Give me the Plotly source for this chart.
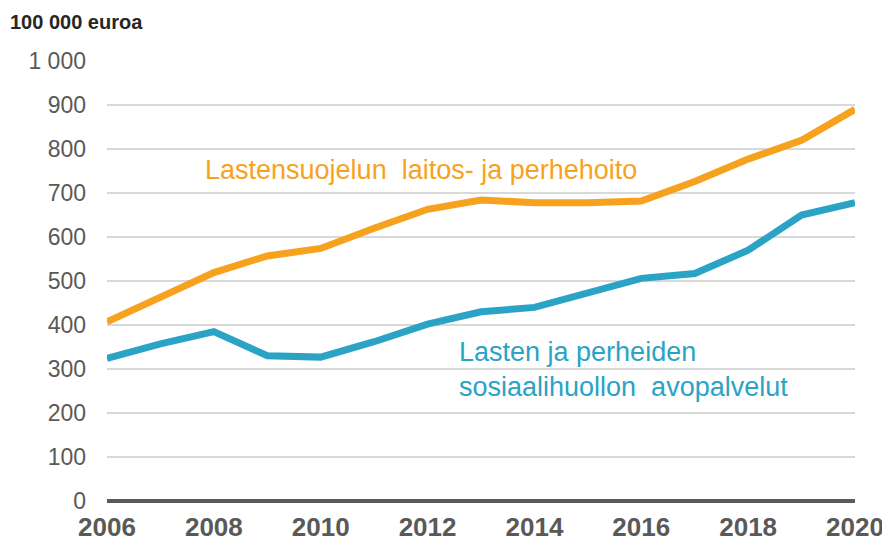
import plotly.graph_objects as go

years = list(range(2006, 2021))
laitos = [407, 461, 519, 557, 574, 620, 663, 684, 678, 678, 682, 726, 777, 820, 890]
avo = [324, 357, 385, 330, 327, 362, 402, 430, 440, 473, 506, 517, 570, 650, 678]
y_ticks = [0, 100, 200, 300, 400, 500, 600, 700, 800, 900, 1000]
x_ticks = [2006, 2008, 2010, 2012, 2014, 2016, 2018, 2020]

orange = "#F7A21E"
blue = "#2AA3C5"

# page body has an 8px margin; figure sized to fit the 890x545 window
L, T, PW, PH = 99, 53, 748, 440

fig = go.Figure()
fig.add_trace(go.Scatter(x=years, y=avo, mode="lines",
                         line=dict(color=blue, width=7), showlegend=False))
fig.add_trace(go.Scatter(x=years, y=laitos, mode="lines",
                         line=dict(color=orange, width=7), showlegend=False))

fig.update_layout(
    width=882, height=537,
    margin=dict(l=L, r=882 - L - PW, t=T, b=537 - T - PH),
    paper_bgcolor="white", plot_bgcolor="white",
    separators=", ",
    font=dict(family="Liberation Sans, Arial, sans-serif"),
    xaxis=dict(range=[2006, 2020], tickvals=x_ticks, showgrid=False,
               zeroline=False, showline=False, automargin=False,
               tickfont=dict(size=26, color="#595959", weight="bold"),
               ticklabelstandoff=8),
    yaxis=dict(range=[0, 1000], tickvals=y_ticks, tickformat=",d",
               showgrid=True, gridcolor="#D9D9D9", gridwidth=2,
               zeroline=True, zerolinecolor="#5A5A5A", zerolinewidth=4,
               showline=False, automargin=False,
               tickfont=dict(size=23, color="#595959"),
               ticklabelstandoff=20),
)

fig.add_annotation(text="<b>100 000 euroa</b>", xref="paper", yref="paper",
                   x=-L / PW, y=1 + (T - 14) / PH, xanchor="left", yanchor="middle",
                   showarrow=False, font=dict(size=20, color="#262626"))
fig.add_annotation(text="Lastensuojelun  laitos- ja perhehoito", x=2007.8, y=752,
                   xanchor="left", yanchor="middle", showarrow=False,
                   font=dict(size=27, color=orange))
fig.add_annotation(text="Lasten ja perheiden<br>sosiaalihuollon  avopalvelut",
                   x=2012.55, y=298, xanchor="left", yanchor="middle", align="left",
                   showarrow=False, font=dict(size=27, color=blue))

fig.write_html("out.html")
